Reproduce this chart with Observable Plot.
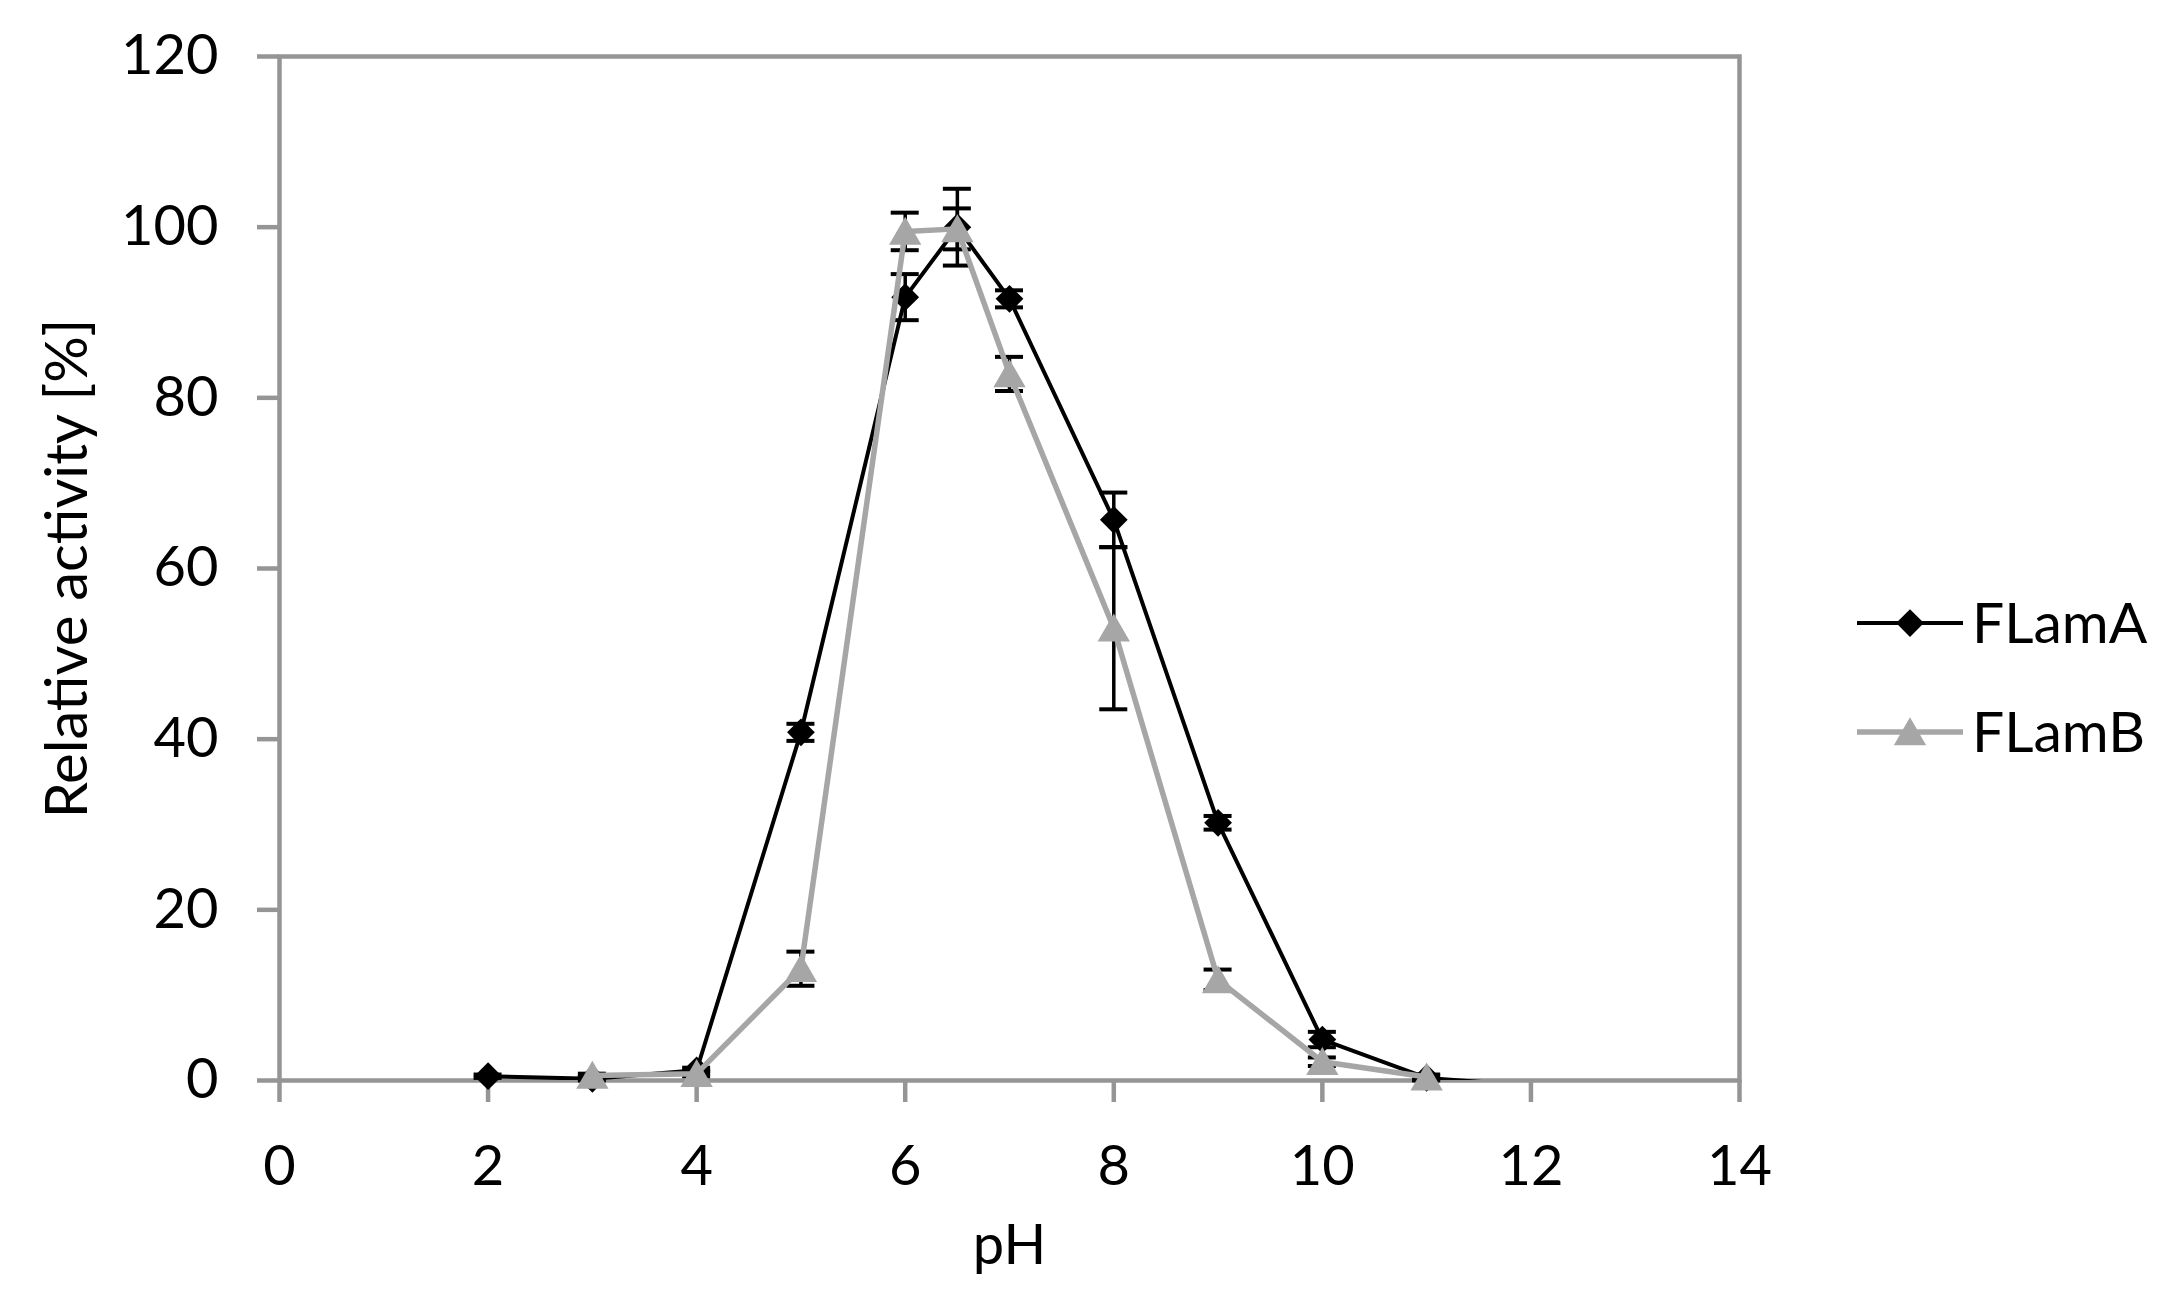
<!DOCTYPE html>
<html>
<head>
<meta charset="utf-8">
<script src="https://cdn.jsdelivr.net/npm/d3@7"></script>
<script src="https://cdn.jsdelivr.net/npm/@observablehq/plot@0.6"></script>
<style>
  html, body { margin: 0; padding: 0; background: #ffffff; }
  #chart { position: relative; width: 2176px; height: 1312px; font-family: Lato, "Open Sans", sans-serif; }
</style>
</head>
<body>
<div id="chart"></div>
<script>
// ---- data ----
const seriesNames = ["FLamA", "FLamB"];
const phA   = [2, 3, 4, 5, 6, 6.5, 7, 8, 9, 10, 11, 12];
const flamA = [0.5, 0.2, 1.2, 40.8, 91.8, 100, 91.6, 65.7, 30.2, 4.8, 0.3, -0.6];
const errA  = [0.2, 0.2, 0.3, 1.0, 2.7, 4.5, 1.0, 3.2, 0.8, 0.9, 0.3, 0];
const phB   = [3, 4, 5, 6, 6.5, 7, 8, 9, 10, 11];
const flamB = [0.6, 0.8, 13.1, 99.5, 99.8, 82.8, 53.0, 11.8, 2.2, 0.4];
const errB  = [0.2, 0.3, 2.0, 2.2, 2.4, 2.0, 9.5, 1.2, 0.5, 0.3];
const xTicks = [0, 2, 4, 6, 8, 10, 12, 14];
const yTicks = [0, 20, 40, 60, 80, 100, 120];
const xLabel = "pH";
const yLabel = "Relative activity [%]";

// ---- styles ----
const FONT = "Lato, 'Open Sans', sans-serif";
const FS = 56;
const AXIS_GREY = "#959595";
const GREY = "#a6a6a6";

const rowsA = phA.map((x, i) => ({x, y: flamA[i], e: errA[i]}));
const rowsB = phB.map((x, i) => ({x, y: flamB[i], e: errB[i]}));
const visA = rowsA.filter(d => d.y >= 0);

function errMarks(rows) {
  const r = rows.filter(d => d.e > 0 && d.y >= 0);
  return [
    Plot.ruleX(r, {x: "x", y1: d => d.y - d.e, y2: d => d.y + d.e, stroke: "black", strokeWidth: 3.5}),
    Plot.ruleY(r, {y: d => d.y + d.e, x1: "x", x2: "x", insetLeft: -14, insetRight: -14, stroke: "black", strokeWidth: 4}),
    Plot.ruleY(r, {y: d => d.y - d.e, x1: "x", x2: "x", insetLeft: -14, insetRight: -14, stroke: "black", strokeWidth: 4})
  ];
}

const chart = Plot.plot({
  width: 2176,
  height: 1312,
  marginLeft: 279,
  marginRight: 437,
  marginTop: 56,
  marginBottom: 232,
  style: {fontFamily: FONT, fontSize: FS + "px", color: "black", background: "white", overflow: "visible"},
  x: {domain: [0, 14]},
  y: {domain: [0, 120]},
  marks: [
    Plot.frame({stroke: AXIS_GREY, strokeWidth: 4.5}),
    Plot.axisX({ticks: xTicks, tickSize: 22, tickPadding: 43, stroke: AXIS_GREY, strokeWidth: 4.5, fill: "black", fontSize: FS, label: null, tickFormat: d => String(d)}),
    Plot.axisY({ticks: yTicks, tickSize: 22, tickPadding: 39, stroke: AXIS_GREY, strokeWidth: 4.5, fill: "black", fontSize: FS, label: null, tickFormat: d => String(d)}),
    Plot.text([xLabel], {frameAnchor: "bottom", dy: 183, fontSize: FS, fill: "black", textAnchor: "middle"}),
    Plot.text([yLabel], {frameAnchor: "left", rotate: -90, dx: -211, fontSize: 58, fill: "black", textAnchor: "middle"}),
    ...errMarks(rowsA),
    Plot.line(rowsA, {x: "x", y: "y", stroke: "black", strokeWidth: 4, clip: true}),
    Plot.dot(visA, {x: "x", y: "y", symbol: "diamond2", r: 12.5, fill: "black", stroke: "none"}),
    ...errMarks(rowsB),
    Plot.line(rowsB, {x: "x", y: "y", stroke: GREY, strokeWidth: 5.5, clip: true}),
    Plot.dot(rowsB, {x: "x", y: "y", symbol: "triangle", r: 12, fill: GREY, stroke: "none", dy: 4})
  ]
});
document.getElementById("chart").appendChild(chart);

// ---- legend ----
const legend = d3.create("svg")
  .attr("width", 326)
  .attr("height", 220)
  .style("position", "absolute")
  .style("left", "1850px")
  .style("top", "570px")
  .style("font-family", FONT);
const items = [
  {name: seriesNames[0], color: "black", width: 4, symbol: d3.symbolDiamond2, size: Math.PI * 12.5 * 12.5, dy: 0},
  {name: seriesNames[1], color: GREY, width: 5.5, symbol: d3.symbolTriangle, size: Math.PI * 12 * 12, dy: 4}
];
items.forEach((it, i) => {
  const cy = 53 + i * 109;
  const g = legend.append("g");
  g.append("line").attr("x1", 7).attr("x2", 113).attr("y1", cy).attr("y2", cy)
    .attr("stroke", it.color).attr("stroke-width", it.width);
  g.append("path").attr("d", d3.symbol(it.symbol, it.size)())
    .attr("transform", `translate(60,${cy + it.dy})`).attr("fill", it.color);
  g.append("text").attr("x", 122).attr("y", cy).attr("dy", "0.35em")
    .attr("font-size", 57).attr("fill", "black").text(it.name);
});
document.getElementById("chart").appendChild(legend.node());
</script>
</body>
</html>
